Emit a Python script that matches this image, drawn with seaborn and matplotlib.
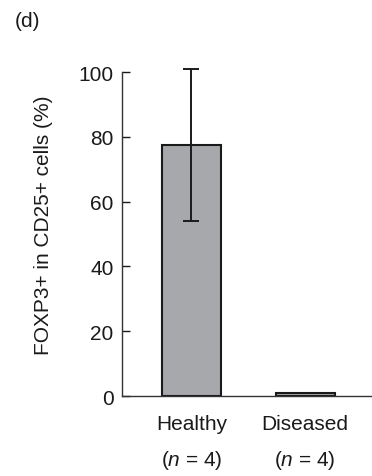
import matplotlib
matplotlib.use("Agg")
import matplotlib.pyplot as plt
import pandas as pd
import seaborn as sns

groups = ["Healthy", "Diseased"]
n_per_group = [4, 4]
foxp3_pct = [77.5, 0.8]
foxp3_sd = [23.5, 0.0]

sns.set_theme(style="ticks")
plt.rcParams.update(
    {
        "font.family": ["Liberation Sans", "DejaVu Sans"],
        "mathtext.fontset": "custom",
        "mathtext.it": "Liberation Sans:italic",
        "mathtext.rm": "Liberation Sans",
    }
)

df = pd.DataFrame({"Group": groups, "Pct": foxp3_pct, "SD": foxp3_sd})

fig = plt.figure(figsize=(3.72, 4.77), dpi=100)
ax = fig.add_axes([0.328, 0.1677, 0.672, 0.679])

sns.barplot(data=df, x="Group", y="Pct", color="#a7a8ab", edgecolor="#1a1a1a",
            linewidth=1.5, width=0.52, errorbar=None, saturation=1, ax=ax)
# error bars only where the sd is non-zero
has_err = df[df["SD"] > 0]
ax.errorbar(has_err.index, has_err["Pct"], yerr=has_err["SD"], fmt="none",
            ecolor="#1a1a1a", elinewidth=1.4, capsize=6, capthick=1.4,
            clip_on=False, zorder=5)

ax.set_ylim(0, 100)
ax.set_xlim(-0.612, 1.59)
ax.set_yticks([0, 20, 40, 60, 80, 100])
ax.tick_params(axis="y", direction="in", length=6, width=1.0, labelsize=15,
               pad=6, colors="#1a1a1a")
ax.tick_params(axis="x", length=0, labelsize=15, pad=13)
ax.set_xticks(range(len(groups)))
ax.set_xticklabels([f"{g}\n($\\it{{n}}$ = {n})" for g, n in zip(groups, n_per_group)],
                   linespacing=1.9, color="#1a1a1a")
ax.set_xlabel("")
ax.set_ylabel("FOXP3+ in CD25+ cells (%)", fontsize=15, color="#1a1a1a")
ax.yaxis.set_label_coords(-0.276, 0.531)

sns.despine(ax=ax)
for s in ["left", "bottom"]:
    ax.spines[s].set_linewidth(1.0)
    ax.spines[s].set_color("#333333")

fig.text(0.04, 0.955, "(d)", fontsize=15, ha="left", va="center",
         color="#1a1a1a")

fig.savefig("out.png", dpi=100)
